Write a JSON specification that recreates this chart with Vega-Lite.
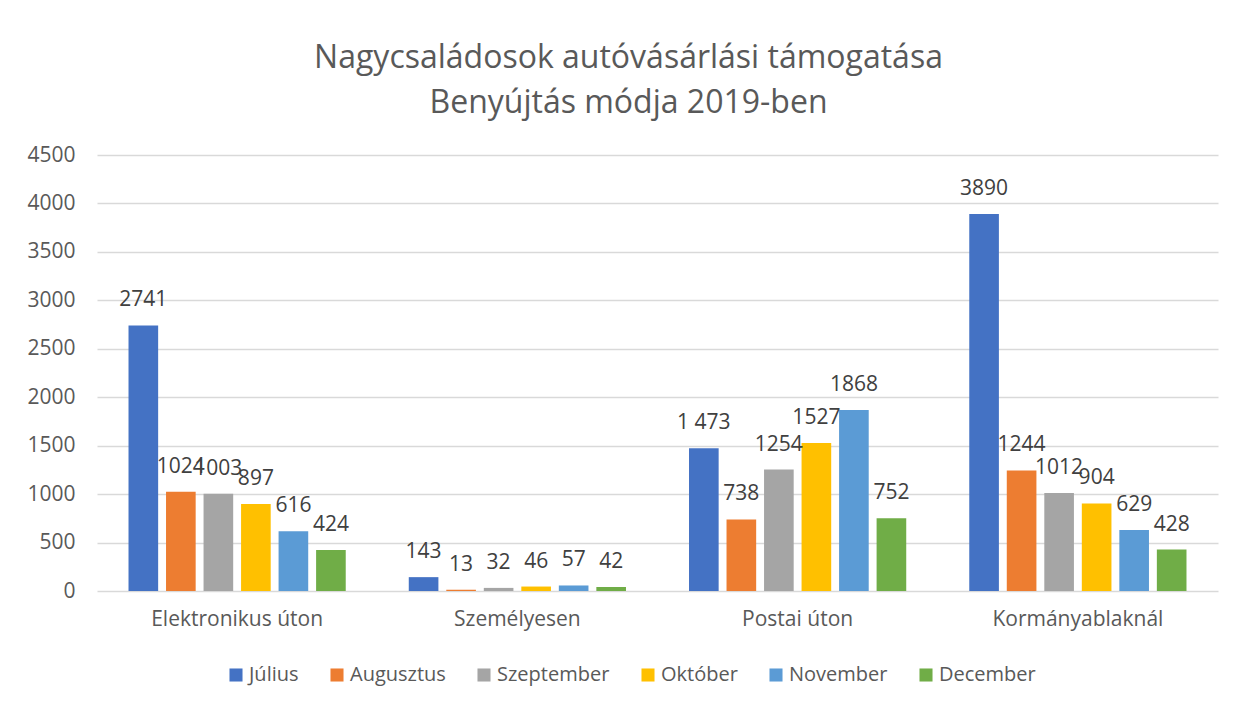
{
  "$schema": "https://vega.github.io/schema/vega-lite/v6.json",
  "autosize": "none",
  "width": 1121,
  "height": 436,
  "padding": {"left": 97, "top": 155, "right": 18, "bottom": 114},
  "background": "white",
  "config": {
    "font": "Open Sans",
    "view": {"stroke": null}
  },
  "title": {
    "text": ["Nagycsaládosok autóvásárlási támogatása", "Benyújtás módja 2019-ben"],
    "fontSize": 32,
    "fontWeight": "normal",
    "color": "#595959",
    "anchor": "middle",
    "frame": "group",
    "dx": -29,
    "offset": 24,
    "lineHeight": 45
  },
  "data": {
    "values": [
      {"mod": "Elektronikus úton", "honap": "Július", "ertek": 2741, "cimke": "2741"},
      {"mod": "Elektronikus úton", "honap": "Augusztus", "ertek": 1024, "cimke": "1024"},
      {"mod": "Elektronikus úton", "honap": "Szeptember", "ertek": 1003, "cimke": "1003"},
      {"mod": "Elektronikus úton", "honap": "Október", "ertek": 897, "cimke": "897"},
      {"mod": "Elektronikus úton", "honap": "November", "ertek": 616, "cimke": "616"},
      {"mod": "Elektronikus úton", "honap": "December", "ertek": 424, "cimke": "424"},
      {"mod": "Személyesen", "honap": "Július", "ertek": 143, "cimke": "143"},
      {"mod": "Személyesen", "honap": "Augusztus", "ertek": 13, "cimke": "13"},
      {"mod": "Személyesen", "honap": "Szeptember", "ertek": 32, "cimke": "32"},
      {"mod": "Személyesen", "honap": "Október", "ertek": 46, "cimke": "46"},
      {"mod": "Személyesen", "honap": "November", "ertek": 57, "cimke": "57"},
      {"mod": "Személyesen", "honap": "December", "ertek": 42, "cimke": "42"},
      {"mod": "Postai úton", "honap": "Július", "ertek": 1473, "cimke": "1 473"},
      {"mod": "Postai úton", "honap": "Augusztus", "ertek": 738, "cimke": "738"},
      {"mod": "Postai úton", "honap": "Szeptember", "ertek": 1254, "cimke": "1254"},
      {"mod": "Postai úton", "honap": "Október", "ertek": 1527, "cimke": "1527"},
      {"mod": "Postai úton", "honap": "November", "ertek": 1868, "cimke": "1868"},
      {"mod": "Postai úton", "honap": "December", "ertek": 752, "cimke": "752"},
      {"mod": "Kormányablaknál", "honap": "Július", "ertek": 3890, "cimke": "3890"},
      {"mod": "Kormányablaknál", "honap": "Augusztus", "ertek": 1244, "cimke": "1244"},
      {"mod": "Kormányablaknál", "honap": "Szeptember", "ertek": 1012, "cimke": "1012"},
      {"mod": "Kormányablaknál", "honap": "Október", "ertek": 904, "cimke": "904"},
      {"mod": "Kormányablaknál", "honap": "November", "ertek": 629, "cimke": "629"},
      {"mod": "Kormányablaknál", "honap": "December", "ertek": 428, "cimke": "428"}
    ]
  },
  "encoding": {
    "x": {
      "field": "mod",
      "type": "nominal",
      "sort": ["Elektronikus úton", "Személyesen", "Postai úton", "Kormányablaknál"],
      "scale": {"paddingInner": 0, "paddingOuter": 0},
      "axis": {
        "title": null,
        "labelAngle": 0,
        "labelFontSize": 21,
        "labelColor": "#595959",
        "labelPadding": 17,
        "domain": false,
        "ticks": false
      }
    },
    "xOffset": {
      "field": "honap",
      "type": "nominal",
      "sort": ["Július", "Augusztus", "Szeptember", "Október", "November", "December"],
      "scale": {"paddingInner": 0.21, "paddingOuter": 0.84}
    },
    "y": {
      "field": "ertek",
      "type": "quantitative",
      "scale": {"domain": [0, 4500], "nice": false},
      "axis": {
        "title": null,
        "format": "d",
        "values": [0, 500, 1000, 1500, 2000, 2500, 3000, 3500, 4000, 4500],
        "labelFontSize": 21,
        "labelColor": "#595959",
        "labelPadding": 22,
        "domain": false,
        "ticks": false,
        "grid": true,
        "gridColor": "#D9D9D9",
        "gridWidth": 1.5
      }
    }
  },
  "layer": [
    {
      "mark": {"type": "bar"},
      "encoding": {
        "color": {
          "field": "honap",
          "type": "nominal",
          "sort": ["Július", "Augusztus", "Szeptember", "Október", "November", "December"],
          "scale": {"range": ["#4472C4", "#ED7D31", "#A5A5A5", "#FFC000", "#5B9BD5", "#70AD47"]},
          "legend": {
            "title": null,
            "orient": "none",
            "direction": "horizontal",
            "legendX": 129,
            "legendY": 510,
            "symbolType": "square",
            "symbolSize": 170,
            "symbolStrokeWidth": 0,
            "symbolOpacity": 1,
            "labelFontSize": 20,
            "labelColor": "#595959",
            "labelOffset": 3,
            "columnPadding": 28
          }
        }
      }
    },
    {
      "mark": {"type": "text", "baseline": "alphabetic", "dy": -19, "fontSize": 21, "color": "#404040"},
      "encoding": {
        "text": {"field": "cimke"}
      }
    }
  ]
}
